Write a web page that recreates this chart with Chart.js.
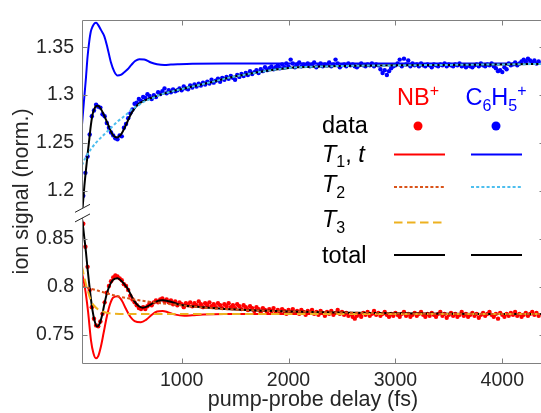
<!DOCTYPE html>
<html><head><meta charset="utf-8">
<script src="https://cdn.jsdelivr.net/npm/chart.js@4/dist/chart.umd.min.js"></script>
<style>html,body{margin:0;padding:0;overflow:hidden;background:#fff;width:541px;height:413px}canvas{display:block}</style>
</head><body><canvas id="c" width="548" height="413"></canvas>
<script>
// ---- data (real values) ----
const LOWER_SHIFT = 0.3;          // lower (NB+) panel is drawn shifted up by this on one axis
const UPPER_MIN = 1.182;          // upper panel lower limit (break)
const LOWER_MAX = 0.872;          // lower panel upper limit (break)
const xTicks = [1000, 2000, 3000, 4000];
const yTicksUpper = [1.2, 1.25, 1.3, 1.35];
const yTicksLower = [0.75, 0.8, 0.85];

const delays = [
 80,100,120,140,160,180,200,220,240,260,
 280,300,320,340,360,380,400,420,440,460,
 480,500,520,540,560,580,600,620,640,660,
 680,700,720,740,760,780,800,820,840,860,
 880,900,920,940,960,980,1000,1020,1040,1060,
 1080,1100,1120,1140,1160,1180,1200,1220,1240,1260,
 1280,1300,1320,1340,1360,1380,1400,1420,1440,1460,
 1480,1500,1520,1540,1560,1580,1600,1620,1640,1660,
 1680,1700,1720,1740,1760,1780,1800,1820,1840,1860,
 1880,1900,1920,1940,1960,1980,2000,2020,2040,2060,
 2080,2100,2120,2140,2160,2180,2200,2220,2240,2260,
 2280,2300,2320,2340,2360,2380,2400,2420,2440,2460,
 2480,2500,2520,2540,2560,2580,2600,2620,2640,2660,
 2680,2700,2720,2740,2760,2780,2800,2820,2840,2860,
 2880,2900,2920,2940,2960,2980,3000,3020,3040,3060,
 3080,3100,3120,3140,3160,3180,3200,3220,3240,3260,
 3280,3300,3320,3340,3360,3380,3400,3420,3440,3460,
 3480,3500,3520,3540,3560,3580,3600,3620,3640,3660,
 3680,3700,3720,3740,3760,3780,3800,3820,3840,3860,
 3880,3900,3920,3940,3960,3980,4000,4020,4040,4060,
 4080,4100,4120,4140,4160,4180,4200,4220,4240,4260,
 4280,4300,4320,4340];

const c6h5Data = [
 1.195,1.219,1.236,1.259,1.278,1.284,1.290,1.288,1.287,1.280,
 1.278,1.271,1.266,1.261,1.258,1.255,1.254,1.258,1.257,1.266,
 1.270,1.276,1.281,1.285,1.291,1.292,1.296,1.294,1.298,1.297,
 1.301,1.299,1.296,1.300,1.298,1.303,1.301,1.304,1.307,1.302,
 1.305,1.303,1.306,1.304,1.305,1.307,1.305,1.309,1.307,1.306,
 1.310,1.308,1.311,1.309,1.312,1.310,1.313,1.311,1.314,1.312,
 1.316,1.313,1.315,1.317,1.314,1.318,1.316,1.319,1.317,1.320,
 1.318,1.316,1.321,1.319,1.322,1.320,1.323,1.321,1.325,1.322,
 1.324,1.326,1.323,1.327,1.325,1.329,1.326,1.328,1.330,1.327,
 1.329,1.331,1.328,1.332,1.329,1.333,1.330,1.337,1.333,1.329,
 1.332,1.334,1.330,1.332,1.331,1.333,1.330,1.332,1.334,1.329,
 1.331,1.333,1.330,1.332,1.331,1.334,1.330,1.332,1.337,1.333,
 1.329,1.331,1.332,1.330,1.333,1.331,1.332,1.330,1.329,1.331,
 1.333,1.331,1.330,1.332,1.331,1.333,1.330,1.332,1.331,1.327,
 1.323,1.326,1.321,1.325,1.328,1.330,1.331,1.333,1.337,1.330,
 1.338,1.332,1.336,1.330,1.333,1.331,1.332,1.330,1.333,1.331,
 1.330,1.332,1.331,1.329,1.332,1.331,1.330,1.332,1.331,1.333,
 1.330,1.332,1.331,1.330,1.332,1.331,1.333,1.330,1.331,1.329,
 1.331,1.330,1.329,1.331,1.332,1.330,1.333,1.331,1.330,1.332,
 1.331,1.333,1.330,1.328,1.325,1.326,1.324,1.329,1.327,1.333,
 1.331,1.332,1.334,1.331,1.333,1.335,1.337,1.335,1.338,1.336,
 1.334,1.336,1.333,1.335];

const nbData = [
 0.866,0.842,0.821,0.797,0.779,0.767,0.760,0.759,0.764,0.772,
 0.784,0.794,0.801,0.806,0.810,0.812,0.811,0.809,0.807,0.803,
 0.801,0.797,0.791,0.787,0.784,0.781,0.778,0.777,0.779,0.777,
 0.780,0.783,0.781,0.784,0.786,0.784,0.787,0.788,0.785,0.787,
 0.784,0.786,0.782,0.785,0.781,0.784,0.782,0.779,0.783,0.781,
 0.784,0.780,0.783,0.781,0.785,0.782,0.779,0.783,0.781,0.784,
 0.780,0.782,0.779,0.783,0.781,0.778,0.782,0.780,0.783,0.779,
 0.781,0.778,0.782,0.780,0.777,0.781,0.779,0.776,0.780,0.778,
 0.775,0.779,0.777,0.774,0.778,0.776,0.773,0.777,0.775,0.778,
 0.774,0.776,0.773,0.777,0.775,0.772,0.776,0.774,0.777,0.773,
 0.775,0.772,0.776,0.774,0.771,0.775,0.773,0.776,0.772,0.774,
 0.771,0.775,0.773,0.770,0.774,0.772,0.775,0.771,0.773,0.776,
 0.772,0.774,0.771,0.773,0.770,0.772,0.769,0.767,0.770,0.772,
 0.769,0.773,0.771,0.774,0.770,0.772,0.775,0.771,0.773,0.770,
 0.772,0.774,0.771,0.769,0.772,0.770,0.773,0.771,0.769,0.772,
 0.774,0.770,0.772,0.769,0.771,0.773,0.770,0.772,0.774,0.771,
 0.769,0.772,0.770,0.773,0.771,0.769,0.772,0.774,0.770,0.772,
 0.768,0.771,0.773,0.770,0.772,0.769,0.771,0.774,0.770,0.772,
 0.769,0.771,0.773,0.770,0.772,0.768,0.771,0.773,0.770,0.772,
 0.774,0.771,0.769,0.772,0.767,0.773,0.771,0.769,0.772,0.770,
 0.773,0.771,0.774,0.770,0.772,0.769,0.771,0.773,0.770,0.772,
 0.774,0.771,0.773,0.770];

// C6H5+ fit components
const c6T1X = [67,85,105,120,136,150,167,185,200,220,245,277,305,339,370,401,430,460,495,530,565,604,650,713,770,838,900,963,1100,1400,4390];
const c6T1Y = [1.268,1.292,1.318,1.340,1.356,1.366,1.3715,1.3748,1.3755,1.373,1.368,1.3613,1.350,1.334,1.3245,1.3204,1.321,1.3235,1.3269,1.3315,1.3355,1.3375,1.3372,1.334,1.3322,1.3314,1.3318,1.3322,1.3328,1.333,1.333];
const c6T2X = [67,100,150,200,275,350,400,475,525,600,645,700,800,950,1100,1275,1440,1600,1750,1900,2050,2300,2600,3000,3500,4000,4390];
const c6T2Y = [1.227,1.2345,1.2435,1.2505,1.259,1.267,1.2725,1.279,1.2845,1.2895,1.293,1.2955,1.3005,1.305,1.309,1.3135,1.318,1.3215,1.3245,1.327,1.3288,1.3298,1.3306,1.331,1.3315,1.332,1.3325];
const c6TotX = [74,90,105,121,137,152,167,185,200,217,245,270,292,315,339,365,395,420,439,465,495,530,573,620,682,740,800,950,1100,1275,1440,1600,1750,1900,2050,2300,2600,3000,3500,4000,4390];
const c6TotY = [1.183,1.205,1.222,1.2388,1.255,1.2694,1.280,1.286,1.2885,1.289,1.2855,1.280,1.2745,1.2685,1.262,1.2575,1.2558,1.2575,1.260,1.2655,1.2728,1.281,1.2881,1.2925,1.2955,1.298,1.3005,1.305,1.309,1.3135,1.318,1.3215,1.3245,1.327,1.3288,1.3298,1.3306,1.331,1.3315,1.332,1.3325];

// NB+ fit components
const nbT1X = [67,85,105,125,152,175,198,220,245,270,300,330,360,401,440,480,520,560,619,670,720,770,822,870,930,1025,1100,1200,1400,4390];
const nbT1Y = [0.815,0.806,0.792,0.774,0.7445,0.731,0.7258,0.728,0.738,0.752,0.769,0.782,0.789,0.7904,0.786,0.777,0.769,0.7645,0.7632,0.766,0.771,0.7745,0.7751,0.7738,0.7715,0.770,0.7705,0.7713,0.7718,0.7718];
const nbT2X = [67,140,214,300,401,500,588,680,775,870,962,1090,1212,1350,1493,1617,1800,2000,2250,2478,2800,3100,3412,3800,4390];
const nbT2Y = [0.8007,0.7985,0.7963,0.7935,0.7904,0.7882,0.7864,0.7849,0.7836,0.7824,0.7813,0.7798,0.7785,0.7774,0.7765,0.7759,0.7751,0.7745,0.7739,0.7734,0.7728,0.7723,0.7719,0.7718,0.7718];
const nbT3X = [67,90,123,153,184,215,247,290,340,420,4390];
const nbT3Y = [0.822,0.810,0.7955,0.7853,0.7802,0.777,0.7751,0.7735,0.7724,0.7719,0.7718];
const nbTotX = [68,74,80,90,105,120,136,150,167,185,208,230,255,277,300,330,360,401,440,470,495,525,557,595,635,675,713,760,822,880,920,963,1056,1150,1250,1400,1600,1800,2000,2300,2600,3000,3500,4000,4390];
const nbTotY = [0.871,0.867,0.861,0.851,0.8364,0.819,0.8024,0.789,0.7751,0.765,0.7588,0.761,0.770,0.782,0.793,0.8025,0.8075,0.8091,0.806,0.802,0.7983,0.792,0.7853,0.7805,0.7785,0.7795,0.782,0.7848,0.7861,0.7852,0.784,0.782,0.7802,0.7793,0.7783,0.7772,0.776,0.7752,0.7745,0.7738,0.7732,0.7726,0.7721,0.7719,0.7718];

// ---- styles ----
const RED = '#FF0000', BLUE = '#0000FF', ORANGE = '#D95319', YELLOW = '#EDB120', CYAN = '#4DBEEE';
const AXIS = '#808080', TXT = '#262626';
const FONT = '"Liberation Sans", Arial, Helvetica, sans-serif';
const DOT = [3, 2.2], DASH = [8.5, 4.5];

const pts = (xs, ys, off) => xs.map((x, i) => ({x: x, y: ys[i] + off}));
const lineDs = (xs, ys, off, color, dash, order) => ({
  data: pts(xs, ys, off), showLine: true, borderColor: color, borderWidth: 2,
  borderDash: dash || [], pointRadius: 0, cubicInterpolationMode: 'monotone', order: order
});
const dotDs = (xs, ys, off, color) => ({
  data: pts(xs, ys, off), showLine: false, pointRadius: 2.2, pointBorderWidth: 0,
  backgroundColor: color, borderColor: color, order: 10
});

const framePlugin = {
  id: 'frame',
  afterDatasetsDraw(chart) {
    const {ctx, chartArea: a, scales: {x, y}} = chart;
    const r = v => Math.round(v) + 0.5;
    const seg = (x1, y1, x2, y2) => { ctx.beginPath(); ctx.moveTo(x1, y1); ctx.lineTo(x2, y2); ctx.stroke(); };
    const yb1 = y.getPixelForValue(UPPER_MIN), yb2 = y.getPixelForValue(LOWER_MAX + LOWER_SHIFT);
    ctx.save();
    ctx.strokeStyle = AXIS; ctx.lineWidth = 1;
    const L = r(a.left), R = r(a.right), T = r(a.top), B = r(a.bottom);
    seg(L, T, R, T); seg(L, B, R, B);
    seg(L, T, L, yb1); seg(L, yb2, L, B);
    seg(R, T, R, yb1); seg(R, yb2, R, B);
    x.ticks.forEach(t => { const p = r(x.getPixelForValue(t.value)); seg(p, B, p, B - 5); seg(p, T, p, T + 5); });
    y.ticks.forEach(t => { const p = r(y.getPixelForValue(t.value)); seg(L, p, L + 5, p); seg(R, p, R - 5, p); });
    ctx.strokeStyle = TXT;
    [yb1, yb2].forEach(p => { seg(a.left - 7, p + 4, a.left + 8, p - 4); });
    ctx.restore();
    drawLegend(ctx);
  }
};

function drawLegend(ctx) {
  ctx.save();
  ctx.textBaseline = 'alphabetic';
  const big = '23.5px ' + FONT, small = '16px ' + FONT, ibig = 'italic 23.5px ' + FONT;
  const runs = (parts, cx, color) => {
    let w = 0;
    parts.forEach(p => { ctx.font = p.f; w += ctx.measureText(p.t).width; });
    let xx = cx - w / 2;
    ctx.fillStyle = color;
    parts.forEach(p => { ctx.font = p.f; ctx.fillText(p.t, xx, p.y); xx += ctx.measureText(p.t).width; });
  };
  const at = (parts, x0) => {
    let xx = x0; ctx.fillStyle = '#000';
    parts.forEach(p => { ctx.font = p.f; ctx.fillText(p.t, xx, p.y); xx += ctx.measureText(p.t).width; });
  };
  const colR = 418, colB = 496;
  runs([{t: 'NB', f: big, y: 105}, {t: '+', f: small, y: 96}], colR, RED);
  runs([{t: 'C', f: big, y: 105}, {t: '6', f: small, y: 111}, {t: 'H', f: big, y: 105}, {t: '5', f: small, y: 111}, {t: '+', f: small, y: 96}], colB, BLUE);
  at([{t: 'data', f: big, y: 133}], 322);
  at([{t: 'T', f: ibig, y: 161.5}, {t: '1', f: small, y: 167}, {t: ', ', f: big, y: 161.5}, {t: 't', f: ibig, y: 161.5}], 322);
  at([{t: 'T', f: ibig, y: 192}, {t: '2', f: small, y: 197.5}], 322);
  at([{t: 'T', f: ibig, y: 227}, {t: '3', f: small, y: 232.5}], 322);
  at([{t: 'total', f: big, y: 263}], 322);
  // markers
  [[colR, RED], [colB, BLUE]].forEach(([cx, c]) => { ctx.fillStyle = c; ctx.beginPath(); ctx.arc(cx, 126, 4.5, 0, Math.PI * 2); ctx.fill(); });
  const sample = (x1, x2, yy, color, dash) => { ctx.strokeStyle = color; ctx.lineWidth = 2; ctx.setLineDash(dash); ctx.beginPath(); ctx.moveTo(x1, yy); ctx.lineTo(x2, yy); ctx.stroke(); };
  sample(394, 445, 154.5, RED, []); sample(471, 522, 154.5, BLUE, []);
  sample(394, 445, 187, ORANGE, DOT); sample(471, 522, 187, CYAN, DOT);
  sample(394, 445, 222.5, YELLOW, DASH);
  sample(394, 445, 255, '#000', []); sample(471, 522, 255, '#000', []);
  ctx.restore();
}

new Chart(document.getElementById('c'), {
  type: 'scatter',
  data: { datasets: [
    lineDs(nbT2X, nbT2Y, LOWER_SHIFT, ORANGE, DOT, 2),
    lineDs(c6T2X, c6T2Y, 0, CYAN, DOT, 2),
    lineDs(nbT3X, nbT3Y, LOWER_SHIFT, YELLOW, DASH, 3),
    lineDs(nbTotX, nbTotY, LOWER_SHIFT, '#000', null, 5),
    lineDs(c6TotX, c6TotY, 0, '#000', null, 5),
    lineDs(nbT1X, nbT1Y, LOWER_SHIFT, RED, null, 6),
    lineDs(c6T1X, c6T1Y, 0, BLUE, null, 6),
    dotDs(delays, nbData, LOWER_SHIFT, RED),
    dotDs(delays, c6h5Data, 0, BLUE)
  ]},
  options: {
    responsive: false, animation: false, devicePixelRatio: 1,
    layout: { padding: { top: 13, right: 4, left: 0, bottom: 0 } },
    plugins: { legend: { display: false }, tooltip: { enabled: false } },
    scales: {
      x: {
        type: 'linear', min: 68, max: 4390,
        grid: { display: false, drawTicks: false }, border: { display: false },
        afterBuildTicks: s => { s.ticks = xTicks.map(v => ({value: v})); },
        afterFit: s => { s.height = 50; },
        ticks: { autoSkip: false, maxRotation: 0, padding: 6, color: TXT, font: { family: FONT, size: 19.5 },
          callback: v => String(v) },
        title: { display: true, text: 'pump-probe delay (fs)', color: TXT, font: { family: FONT, size: 21.5 }, padding: { top: 0, bottom: 0 } }
      },
      y: {
        type: 'linear', min: 1.0208, max: 1.3786,
        grid: { display: false, drawTicks: false }, border: { display: false },
        afterBuildTicks: s => { s.ticks = yTicksLower.map(v => v + LOWER_SHIFT).concat(yTicksUpper).map(v => ({value: v})); },
        afterFit: s => { s.width = 82; },
        ticks: { autoSkip: false, padding: 8, color: TXT, font: { family: FONT, size: 19.5 },
          callback: v => String(+(v < UPPER_MIN - 0.004 ? v - LOWER_SHIFT : v).toFixed(2)) },
        title: { display: true, text: 'ion signal (norm.)', color: TXT, font: { family: FONT, size: 21.5 }, padding: { top: 9, bottom: 0 } }
      }
    }
  },
  plugins: [framePlugin]
});
</script></body></html>
